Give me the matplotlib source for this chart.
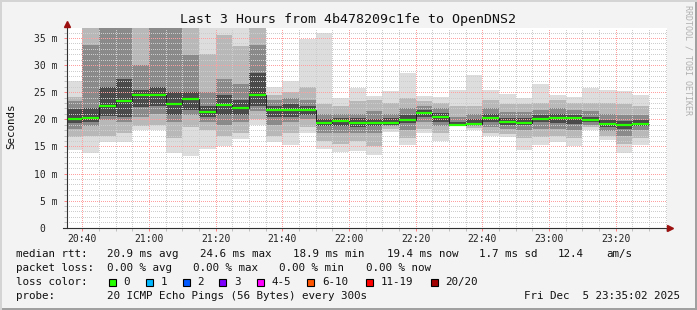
import matplotlib
matplotlib.use("Agg")
import matplotlib.pyplot as plt
import matplotlib.dates as mdates
import pandas as pd
from matplotlib.patches import Rectangle

W, H = 697, 310
MONO = "DejaVu Sans Mono"

# 5 minute rounds, 20 pings each, values in ms
bar_start = pd.date_range("2025-12-05 20:35", periods=35, freq="5min")
rtt_min = [14.3, 13.7, 15.9, 15.8, 18.0, 18.0, 13.8, 13.3, 14.5, 15.1, 16.4, 18.9,
           15.8, 15.3, 17.4, 14.5, 14.0, 14.2, 13.4, 17.7, 15.3, 17.5, 16.0, 18.7,
           18.0, 16.9, 16.8, 14.3, 15.3, 15.9, 15.1, 18.0, 16.2, 13.8, 15.3]
rtt_p15 = [16.8, 17.0, 17.0, 17.5, 18.8, 19.0, 16.5, 18.6, 18.0, 17.0, 17.5, 20.0,
           17.0, 17.5, 18.5, 16.0, 15.5, 16.0, 15.0, 18.2, 16.5, 18.3, 17.5, 18.75,
           18.4, 17.5, 17.3, 16.5, 16.8, 17.0, 16.5, 18.5, 17.0, 15.5, 16.5]
rtt_p30 = [18.3, 18.8, 19.8, 19.5, 20.5, 21.0, 19.5, 20.8, 19.5, 19.0, 19.5, 21.5,
           19.0, 19.5, 20.0, 17.5, 17.5, 17.5, 17.5, 18.7, 18.0, 19.5, 18.8, 18.8,
           18.7, 18.5, 18.3, 18.0, 18.3, 18.3, 18.0, 19.0, 17.8, 17.0, 18.0]
rtt_p40 = [19.4, 19.5, 20.6, 20.5, 22.3, 22.5, 20.8, 21.7, 20.5, 20.8, 20.8, 22.5,
           20.5, 20.5, 20.8, 18.8, 18.8, 18.5, 18.7, 19.0, 19.3, 20.5, 19.5, 18.85,
           19.0, 19.5, 19.0, 19.0, 19.5, 19.3, 19.2, 19.5, 18.5, 18.3, 18.8]
rtt_median = [20.0, 20.2, 22.5, 23.4, 24.4, 24.5, 22.8, 23.7, 21.3, 22.6, 22.1, 24.5,
              21.8, 21.8, 21.8, 19.4, 19.7, 19.3, 19.3, 19.3, 19.9, 21.2, 20.5, 18.9,
              19.2, 20.2, 19.5, 19.4, 20.1, 20.2, 20.2, 19.9, 19.1, 18.9, 19.2]
rtt_p60 = [21.9, 22.0, 26.0, 27.5, 25.5, 26.0, 25.0, 25.1, 22.5, 24.5, 23.5, 28.5,
           22.5, 22.8, 22.5, 20.0, 20.3, 20.2, 20.0, 20.2, 20.8, 21.8, 21.2, 19.5,
           20.0, 21.0, 20.3, 20.3, 20.8, 21.0, 20.8, 20.5, 19.8, 19.6, 19.8]
rtt_p70 = [23.3, 33.7, 45.0, 45.0, 30.0, 40.0, 40.0, 31.9, 25.0, 27.5, 26.5, 33.7,
           23.5, 24.0, 23.5, 21.0, 21.0, 21.0, 21.5, 21.0, 22.0, 22.5, 22.0, 20.5,
           21.0, 22.0, 21.3, 21.3, 21.8, 22.0, 21.8, 21.5, 21.0, 20.8, 20.8]
rtt_p85 = [24.2, 45.0, 55.0, 55.0, 45.0, 50.0, 50.0, 45.0, 32.0, 35.5, 33.5, 45.0,
           24.5, 25.0, 26.0, 22.8, 22.5, 23.3, 23.5, 23.0, 24.0, 23.3, 23.0, 22.5,
           22.5, 23.5, 22.8, 22.8, 23.0, 23.5, 23.0, 23.0, 23.0, 22.8, 22.5]
rtt_max = [27.1, 55.0, 65.0, 65.0, 55.0, 60.0, 60.0, 55.0, 45.0, 45.0, 45.0, 50.0,
           26.0, 27.1, 34.9, 36.0, 24.0, 25.7, 24.3, 25.3, 28.6, 24.3, 24.1, 25.4,
           28.1, 25.5, 24.7, 24.0, 26.5, 24.5, 24.2, 25.8, 25.4, 25.3, 24.5]

loss_labels = ["0", "1", "2", "3", "4-5", "6-10", "11-19", "20/20"]
loss_colors = ["#26ff00", "#00b8ff", "#0059ff", "#7e00ff", "#ff00ff", "#ff5500", "#ff0000", "#a10000"]

fig = plt.figure(figsize=(W / 100, H / 100), dpi=100)
fig.patch.set_facecolor("#f3f3f3")

def px(x, y):
    return x / W, 1 - y / H

# plot area 66.7..666.7 px wide, 28..227.7 px high
ax = fig.add_axes([66.7 / W, (H - 227.7) / H, 600 / W, 199.7 / H])
ax.set_facecolor("white")

edges = mdates.date2num(list(bar_start.to_pydatetime()) +
                        [(bar_start[-1] + pd.Timedelta(minutes=5)).to_pydatetime()])
layers = [(rtt_min, rtt_max, "#dddddd"),
          (rtt_p15, rtt_p85, "#b8b8b8"),
          (rtt_p30, rtt_p70, "#8a8a8a"),
          (rtt_p40, rtt_p60, "#4a4a4a")]
for lo, hi, col in layers:
    ax.stairs(hi, edges, baseline=lo, fill=True, color=col, lw=0, zorder=1)

ax.stairs(rtt_median, edges, baseline=None, color="#202020", lw=0.7, zorder=3)
ax.hlines(rtt_median, edges[:-1], edges[1:], color=loss_colors[0], lw=1.6, zorder=4)

x0 = pd.Timestamp("2025-12-05 20:35:16")
ax.set_xlim(mdates.date2num(x0.to_pydatetime()),
            mdates.date2num((x0 + pd.Timedelta(hours=3)).to_pydatetime()))
ax.set_ylim(0, 36.85)

ax.xaxis.set_major_locator(mdates.MinuteLocator(byminute=[0, 20, 40]))
ax.xaxis.set_minor_locator(mdates.MinuteLocator(byminute=range(0, 60, 5)))
ax.xaxis.set_major_formatter(mdates.DateFormatter("%H:%M"))
ax.set_yticks(range(0, 36, 5))
ax.set_yticks(range(0, 37), minor=True)
ax.set_yticklabels(["0  " if v == 0 else f"{v} m" for v in range(0, 36, 5)])

ax.set_axisbelow(False)
ax.grid(which="major", color="#ffa0a0", lw=0.72, linestyle=(0, (1, 1.2)), antialiased=False)
ax.grid(which="minor", color="#cdcdcd", lw=0.72, linestyle=(0, (1, 1.2)), antialiased=False)

for s in ax.spines.values():
    s.set_visible(False)
ax.tick_params(which="both", length=2, width=0.7, direction="out")
ax.tick_params(which="major", color="#ff8080")
ax.tick_params(which="minor", color="#c0c0c0")
ax.tick_params(axis="x", which="major", pad=2.5)
ax.tick_params(axis="y", which="major", pad=4.5)
for lab in ax.get_xticklabels() + ax.get_yticklabels():
    lab.set_fontfamily(MONO)
    lab.set_fontsize(7)
    lab.set_color("#222222")

# axis lines with arrows
ax.plot([0, 0], [0, 1.02], transform=ax.transAxes, color="#303030", lw=0.8, clip_on=False, zorder=5)
ax.plot([-0.007, 1.003], [0, 0], transform=ax.transAxes, color="#303030", lw=0.8, clip_on=False, zorder=5)
ax.plot(0, 1.018, marker="^", ms=4, color="#9c1010", transform=ax.transAxes, clip_on=False, zorder=6)
ax.plot(1.006, 0, marker=">", ms=4, color="#9c1010", transform=ax.transAxes, clip_on=False, zorder=6)

fig.text(*px(348.5, 19), "Last 3 Hours from 4b478209c1fe to OpenDNS2",
         family=MONO, fontsize=9.55, ha="center", va="center", color="#111111")
fig.text(*px(11, 126), "Seconds", family=MONO, fontsize=7.85, rotation=90,
         ha="center", va="center", color="#111111")
fig.text(*px(688, 60), "RRDTOOL / TOBI OETIKER", family=MONO, fontsize=6,
         rotation=270, ha="center", va="center", color="#b0b0b0")

def line(y, items):
    for x, s in items:
        fig.text(*px(x, y), s, family=MONO, fontsize=7.85, ha="left", va="center", color="#111111")

line(254.3, [(16, "median rtt:"), (107.3, "20.9 ms avg"), (200, "24.6 ms max"),
             (292.7, "18.9 ms min"), (386.7, "19.4 ms now"), (479, "1.7 ms sd"),
             (558, "12.4"), (606.7, "am/s")])
line(268.3, [(16, "packet loss:"), (107.3, "0.00 % avg"), (193.3, "0.00 % max"),
             (279.3, "0.00 % min"), (365.7, "0.00 % now")])
box_x = [109, 146, 182.7, 219.3, 256.7, 307.3, 366, 430.7]
items = [(16, "loss color:")]
for bx, lab, col in zip(box_x, loss_labels, loss_colors):
    fig.add_artist(Rectangle(px(bx, 286), 7 / W, 7 / H, transform=fig.transFigure,
                             facecolor=col, edgecolor="black", lw=0.8))
    items.append((bx + 14.5, lab))
line(282.3, items)
line(296.3, [(16, "probe:"), (107.3, "20 ICMP Echo Pings (56 Bytes) every 300s")])
fig.text(*px(680, 296.3), "Fri Dec  5 23:35:02 2025", family=MONO, fontsize=7.85,
         ha="right", va="center", color="#111111")

# 3d frame
fig.add_artist(Rectangle((0, 0), 1, 2.5 / H, transform=fig.transFigure, color="#a0a0a0", lw=0))
fig.add_artist(Rectangle((1 - 2.5 / W, 0), 2.5 / W, 1, transform=fig.transFigure, color="#a0a0a0", lw=0))
fig.add_artist(Rectangle((0, 1 - 1.5 / H), 1, 1.5 / H, transform=fig.transFigure, color="#d4d4d4", lw=0))
fig.add_artist(Rectangle((0, 0), 1.5 / W, 1, transform=fig.transFigure, color="#d4d4d4", lw=0))

fig.savefig("out.png", dpi=100, facecolor=fig.get_facecolor())
